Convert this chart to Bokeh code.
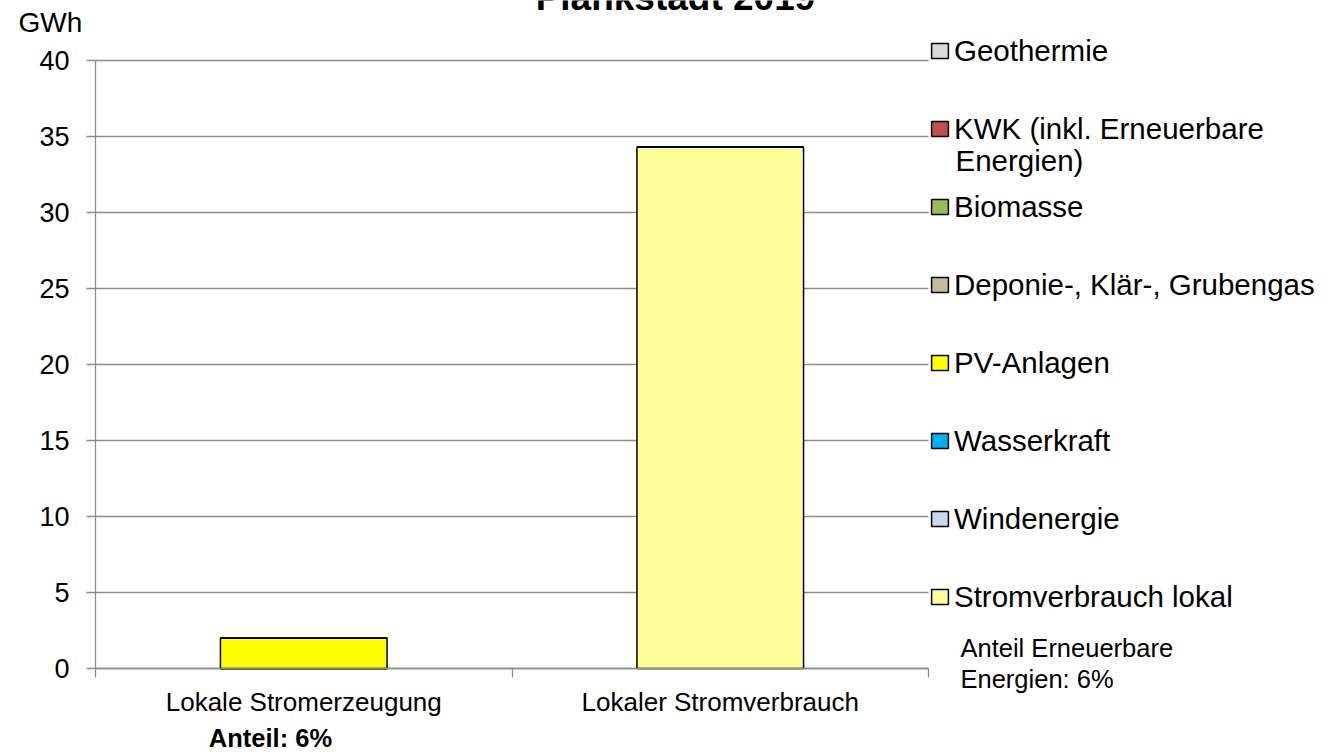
from bokeh.plotting import figure
from bokeh.models import Range1d, FixedTicker, Legend, LegendItem, Label, ColumnDataSource
from bokeh.embed import file_html
from bokeh.resources import INLINE

# ---- data ----
categories = ["Lokale Stromerzeugung", "Lokaler Stromverbrauch"]
geothermie = [0.0, 0.0]
kwk = [0.0, 0.0]
biomasse = [0.0, 0.0]
deponie = [0.0, 0.0]
pv_anlagen = [2.0, 0.0]
wasserkraft = [0.0, 0.0]
windenergie = [0.0, 0.0]
stromverbrauch = [0.0, 34.3]
y_ticks = [0, 5, 10, 15, 20, 25, 30, 35, 40]
legend_labels = ["Geothermie", "KWK (inkl. Erneuerbare", "Biomasse",
                 "Deponie-, Klär-, Grubengas", "PV-Anlagen", "Wasserkraft",
                 "Windenergie", "Stromverbrauch lokal"]
legend_label_cont = "Energien)"
series_colors = ["#d9d9d9", "#c0504d", "#9bbb59", "#c4bd97", "#ffff00",
                 "#00b0f0", "#c6d9f1", "#ffff99"]
title_text = "Plankstadt 2019"
unit_text = "GWh"
share_text = "Anteil: 6%"
re_share_lines = ["Anteil Erneuerbare", "Energien: 6%"]

FONT = "Liberation Sans"
GRID = "#8c8c8c"

# ---- layout (pixels) ----
W, H = 1328, 752
PX_LEFT, PX_RIGHT = 95.0, 928.0   # plot area in pixels
PX_TOP, PX_BOTTOM = 60.0, 668.0
Y_MAX = 40.0
n_cat = len(categories)
ux = (PX_RIGHT - PX_LEFT) / n_cat
uy = (PX_BOTTOM - PX_TOP) / Y_MAX
x_range = Range1d(-PX_LEFT / ux, n_cat + (W - PX_RIGHT) / ux)
y_range = Range1d(-(H - PX_BOTTOM) / uy, Y_MAX + PX_TOP / uy)

x_pos = [i + 0.5 for i in range(n_cat)]
series = [geothermie, kwk, biomasse, deponie, pv_anlagen, wasserkraft,
          windenergie, stromverbrauch]
keys = ["s%d" % i for i in range(len(series))]
data = {"x": x_pos}
for k, s in zip(keys, series):
    data[k] = s
source = ColumnDataSource(data)

p = figure(width=W, height=H, x_range=x_range, y_range=y_range,
           output_backend="svg", toolbar_location=None,
           min_border=0, min_border_left=0, min_border_right=0,
           min_border_top=0, min_border_bottom=0)
p.outline_line_color = None
p.background_fill_color = "white"
p.border_fill_color = "white"

# grid
p.xgrid.visible = False
p.ygrid.grid_line_color = GRID
p.ygrid.grid_line_width = 1.3
p.ygrid.ticker = FixedTicker(ticks=y_ticks)
try:
    p.ygrid.cross_bounds = (0, n_cat)
except Exception:
    pass

# stacked bars (bottom -> top is reverse of legend order)
stack_keys = list(reversed(keys))
stack_colors = list(reversed(series_colors))
renderers = p.vbar_stack(stack_keys, x="x", width=0.4, source=source,
                         fill_color=stack_colors, line_color="black",
                         line_width=1.5)
renderers = list(reversed(renderers))

# y axis
ya = p.yaxis[0]
ya.fixed_location = 0
ya.bounds = (0, Y_MAX)
ya.ticker = FixedTicker(ticks=y_ticks)
ya.axis_line_color = GRID
ya.axis_line_width = 1.3
ya.major_tick_line_color = GRID
ya.major_tick_line_width = 1.3
ya.major_tick_in = 0
ya.major_tick_out = 9
ya.minor_tick_line_color = None
ya.major_label_text_font = FONT
ya.major_label_text_font_size = "27px"
ya.major_label_text_color = "black"
ya.major_label_standoff = 17

# x axis
xa = p.xaxis[0]
xa.fixed_location = 0
xa.bounds = (0, n_cat)
xa.ticker = FixedTicker(ticks=x_pos, minor_ticks=list(range(n_cat + 1)))
xa.major_label_overrides = {xv: c for xv, c in zip(x_pos, categories)}
xa.axis_line_color = GRID
xa.axis_line_width = 1.3
xa.major_tick_line_color = None
xa.major_tick_in = 0
xa.major_tick_out = 0
xa.minor_tick_line_color = GRID
xa.minor_tick_line_width = 1.3
xa.minor_tick_in = 0
xa.minor_tick_out = 9
xa.major_label_text_font = FONT
xa.major_label_text_font_size = "26px"
xa.major_label_text_color = "black"
xa.major_label_standoff = 9

# legend
items = [LegendItem(label=l, renderers=[r]) for l, r in zip(legend_labels, renderers)]
legend = Legend(items=items, location=(929, 137.5), padding=0, margin=0,
                border_line_color=None, background_fill_alpha=0,
                glyph_width=21, glyph_height=19, label_standoff=4,
                label_height=36, spacing=42,
                label_text_font=FONT, label_text_font_size="29.5px",
                label_text_color="black")
p.add_layout(legend, "center")

def lab(text, px, py, size, align="left", bold=False):
    # px, py: pixel position (text middle) from the top-left corner of the canvas
    p.add_layout(Label(text=text, x=px, y=H - py, x_units="screen", y_units="screen",
                       text_font=FONT, text_font_size=size, text_color="black",
                       text_align=align, text_baseline="middle",
                       text_font_style="bold" if bold else "normal"))

lab(legend_label_cont, 955, 159.5, "29.5px")
lab(re_share_lines[0], 960, 647, "25.5px")
lab(re_share_lines[1], 960, 678, "25.5px")
lab(share_text, 270, 737, "25.5px", align="center", bold=True)
lab(unit_text, 18, 22, "28px")
lab(title_text, 675, -3, "37px", align="center", bold=True)

open("out.html", "w").write(file_html(p, INLINE))
